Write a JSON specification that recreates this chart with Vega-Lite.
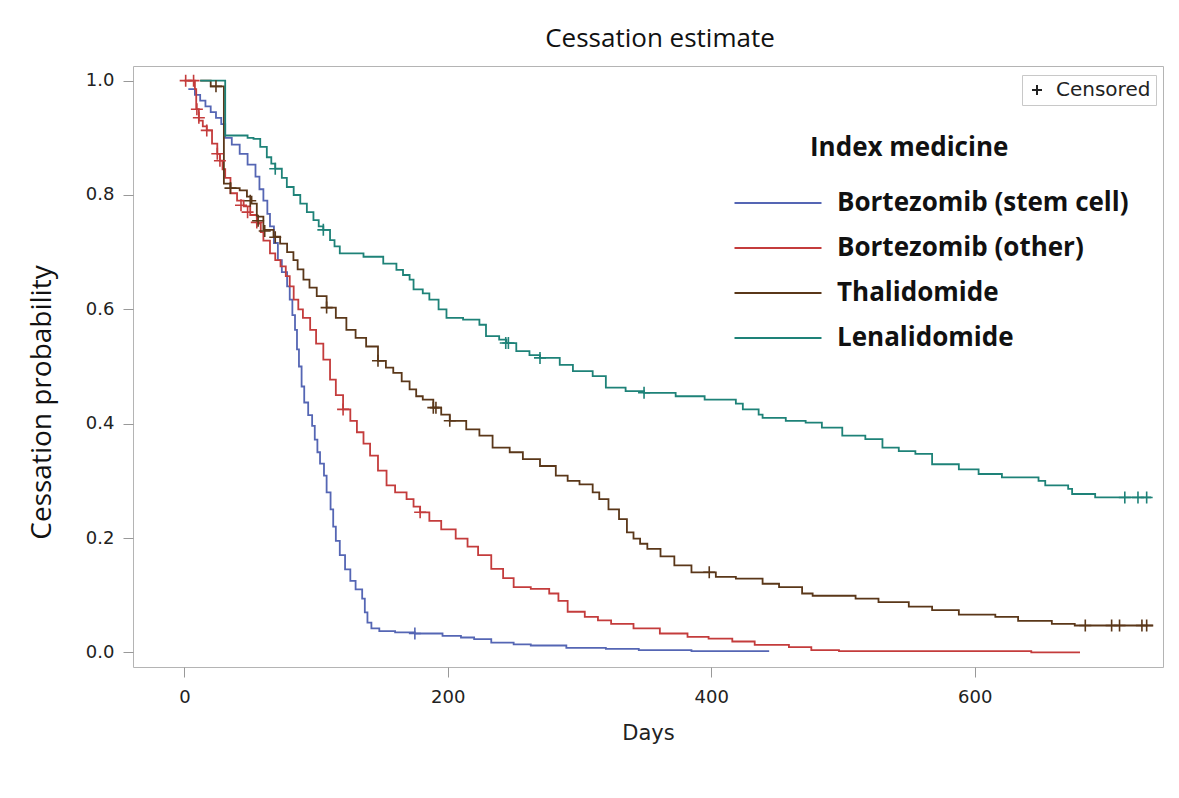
{
"$schema":"https://vega.github.io/schema/vega-lite/v6.json",
"width":1030,"height":601,
"autosize":{"type":"none"},
"padding":{"left":133,"top":66,"right":16,"bottom":131},
"background":"white",
"title":{"text":"Cessation estimate","font":"Open Sans","fontSize":26,"fontWeight":"normal","color":"#111","anchor":"middle","offset":14,"dx":12},
"config":{"view":{"stroke":"#b4b4b4","strokeWidth":1}},
"datasets":{
"curves":[
{"medicine":"Bortezomib (stem cell)","day":3,"prob":0.985},{"medicine":"Bortezomib (stem cell)","day":8,"prob":0.975},{"medicine":"Bortezomib (stem cell)","day":12,"prob":0.965},{"medicine":"Bortezomib (stem cell)","day":16,"prob":0.955},{"medicine":"Bortezomib (stem cell)","day":20,"prob":0.945},{"medicine":"Bortezomib (stem cell)","day":24,"prob":0.935},{"medicine":"Bortezomib (stem cell)","day":28,"prob":0.924},{"medicine":"Bortezomib (stem cell)","day":31,"prob":0.9},{"medicine":"Bortezomib (stem cell)","day":36,"prob":0.888},{"medicine":"Bortezomib (stem cell)","day":42,"prob":0.872},{"medicine":"Bortezomib (stem cell)","day":48,"prob":0.853},{"medicine":"Bortezomib (stem cell)","day":54,"prob":0.832},{"medicine":"Bortezomib (stem cell)","day":57,"prob":0.81},{"medicine":"Bortezomib (stem cell)","day":60,"prob":0.79},{"medicine":"Bortezomib (stem cell)","day":63,"prob":0.767},{"medicine":"Bortezomib (stem cell)","day":65,"prob":0.745},{"medicine":"Bortezomib (stem cell)","day":68,"prob":0.716},{"medicine":"Bortezomib (stem cell)","day":71,"prob":0.686},{"medicine":"Bortezomib (stem cell)","day":74,"prob":0.665},{"medicine":"Bortezomib (stem cell)","day":78,"prob":0.64},{"medicine":"Bortezomib (stem cell)","day":80,"prob":0.617},{"medicine":"Bortezomib (stem cell)","day":82,"prob":0.59},{"medicine":"Bortezomib (stem cell)","day":84,"prob":0.564},{"medicine":"Bortezomib (stem cell)","day":85.5,"prob":0.53},{"medicine":"Bortezomib (stem cell)","day":87,"prob":0.5},{"medicine":"Bortezomib (stem cell)","day":89,"prob":0.465},{"medicine":"Bortezomib (stem cell)","day":91,"prob":0.437},{"medicine":"Bortezomib (stem cell)","day":94,"prob":0.415},{"medicine":"Bortezomib (stem cell)","day":97,"prob":0.396},{"medicine":"Bortezomib (stem cell)","day":99,"prob":0.372},{"medicine":"Bortezomib (stem cell)","day":101,"prob":0.35},{"medicine":"Bortezomib (stem cell)","day":103,"prob":0.33},{"medicine":"Bortezomib (stem cell)","day":106,"prob":0.309},{"medicine":"Bortezomib (stem cell)","day":108,"prob":0.28},{"medicine":"Bortezomib (stem cell)","day":111,"prob":0.25},{"medicine":"Bortezomib (stem cell)","day":113,"prob":0.22},{"medicine":"Bortezomib (stem cell)","day":115,"prob":0.195},{"medicine":"Bortezomib (stem cell)","day":118,"prob":0.17},{"medicine":"Bortezomib (stem cell)","day":122,"prob":0.145},{"medicine":"Bortezomib (stem cell)","day":126,"prob":0.125},{"medicine":"Bortezomib (stem cell)","day":130,"prob":0.11},{"medicine":"Bortezomib (stem cell)","day":135,"prob":0.094},{"medicine":"Bortezomib (stem cell)","day":137,"prob":0.07},{"medicine":"Bortezomib (stem cell)","day":139,"prob":0.052},{"medicine":"Bortezomib (stem cell)","day":142,"prob":0.042},{"medicine":"Bortezomib (stem cell)","day":148,"prob":0.037},{"medicine":"Bortezomib (stem cell)","day":160,"prob":0.035},{"medicine":"Bortezomib (stem cell)","day":175,"prob":0.033},{"medicine":"Bortezomib (stem cell)","day":196,"prob":0.029},{"medicine":"Bortezomib (stem cell)","day":210,"prob":0.026},{"medicine":"Bortezomib (stem cell)","day":220,"prob":0.023},{"medicine":"Bortezomib (stem cell)","day":233,"prob":0.017},{"medicine":"Bortezomib (stem cell)","day":250,"prob":0.014},{"medicine":"Bortezomib (stem cell)","day":263,"prob":0.012},{"medicine":"Bortezomib (stem cell)","day":290,"prob":0.008},{"medicine":"Bortezomib (stem cell)","day":320,"prob":0.006},{"medicine":"Bortezomib (stem cell)","day":345,"prob":0.004},{"medicine":"Bortezomib (stem cell)","day":385,"prob":0.002},{"medicine":"Bortezomib (stem cell)","day":444,"prob":0.002},
{"medicine":"Bortezomib (other)","day":0,"prob":1.0},{"medicine":"Bortezomib (other)","day":8,"prob":0.985},{"medicine":"Bortezomib (other)","day":9,"prob":0.95},{"medicine":"Bortezomib (other)","day":11,"prob":0.93},{"medicine":"Bortezomib (other)","day":14,"prob":0.92},{"medicine":"Bortezomib (other)","day":17,"prob":0.913},{"medicine":"Bortezomib (other)","day":21,"prob":0.89},{"medicine":"Bortezomib (other)","day":25,"prob":0.872},{"medicine":"Bortezomib (other)","day":27,"prob":0.86},{"medicine":"Bortezomib (other)","day":29,"prob":0.845},{"medicine":"Bortezomib (other)","day":31,"prob":0.83},{"medicine":"Bortezomib (other)","day":35,"prob":0.803},{"medicine":"Bortezomib (other)","day":40,"prob":0.79},{"medicine":"Bortezomib (other)","day":45,"prob":0.78},{"medicine":"Bortezomib (other)","day":50,"prob":0.765},{"medicine":"Bortezomib (other)","day":55,"prob":0.75},{"medicine":"Bortezomib (other)","day":58,"prob":0.735},{"medicine":"Bortezomib (other)","day":60,"prob":0.72},{"medicine":"Bortezomib (other)","day":65,"prob":0.698},{"medicine":"Bortezomib (other)","day":69,"prob":0.686},{"medicine":"Bortezomib (other)","day":73,"prob":0.675},{"medicine":"Bortezomib (other)","day":77,"prob":0.658},{"medicine":"Bortezomib (other)","day":80,"prob":0.64},{"medicine":"Bortezomib (other)","day":83,"prob":0.617},{"medicine":"Bortezomib (other)","day":86.5,"prob":0.6},{"medicine":"Bortezomib (other)","day":90,"prob":0.585},{"medicine":"Bortezomib (other)","day":95.5,"prob":0.564},{"medicine":"Bortezomib (other)","day":100,"prob":0.54},{"medicine":"Bortezomib (other)","day":105.5,"prob":0.512},{"medicine":"Bortezomib (other)","day":110.6,"prob":0.477},{"medicine":"Bortezomib (other)","day":115,"prob":0.45},{"medicine":"Bortezomib (other)","day":120.5,"prob":0.425},{"medicine":"Bortezomib (other)","day":126,"prob":0.405},{"medicine":"Bortezomib (other)","day":131,"prob":0.385},{"medicine":"Bortezomib (other)","day":136,"prob":0.365},{"medicine":"Bortezomib (other)","day":141,"prob":0.344},{"medicine":"Bortezomib (other)","day":147,"prob":0.318},{"medicine":"Bortezomib (other)","day":153.5,"prob":0.292},{"medicine":"Bortezomib (other)","day":160,"prob":0.28},{"medicine":"Bortezomib (other)","day":168.7,"prob":0.268},{"medicine":"Bortezomib (other)","day":174,"prob":0.255},{"medicine":"Bortezomib (other)","day":179,"prob":0.245},{"medicine":"Bortezomib (other)","day":186,"prob":0.23},{"medicine":"Bortezomib (other)","day":195,"prob":0.215},{"medicine":"Bortezomib (other)","day":206,"prob":0.199},{"medicine":"Bortezomib (other)","day":215,"prob":0.185},{"medicine":"Bortezomib (other)","day":223,"prob":0.17},{"medicine":"Bortezomib (other)","day":233,"prob":0.146},{"medicine":"Bortezomib (other)","day":242,"prob":0.13},{"medicine":"Bortezomib (other)","day":250,"prob":0.114},{"medicine":"Bortezomib (other)","day":263,"prob":0.111},{"medicine":"Bortezomib (other)","day":277,"prob":0.103},{"medicine":"Bortezomib (other)","day":284,"prob":0.09},{"medicine":"Bortezomib (other)","day":291,"prob":0.071},{"medicine":"Bortezomib (other)","day":304,"prob":0.062},{"medicine":"Bortezomib (other)","day":314,"prob":0.056},{"medicine":"Bortezomib (other)","day":324,"prob":0.05},{"medicine":"Bortezomib (other)","day":341,"prob":0.042},{"medicine":"Bortezomib (other)","day":361,"prob":0.033},{"medicine":"Bortezomib (other)","day":382,"prob":0.027},{"medicine":"Bortezomib (other)","day":398,"prob":0.024},{"medicine":"Bortezomib (other)","day":416,"prob":0.019},{"medicine":"Bortezomib (other)","day":433,"prob":0.013},{"medicine":"Bortezomib (other)","day":459,"prob":0.009},{"medicine":"Bortezomib (other)","day":476,"prob":0.004},{"medicine":"Bortezomib (other)","day":497,"prob":0.002},{"medicine":"Bortezomib (other)","day":643,"prob":0.0},{"medicine":"Bortezomib (other)","day":680,"prob":0.0},
{"medicine":"Thalidomide","day":12,"prob":1.0},{"medicine":"Thalidomide","day":20,"prob":0.99},{"medicine":"Thalidomide","day":30,"prob":0.82},{"medicine":"Thalidomide","day":35,"prob":0.812},{"medicine":"Thalidomide","day":42,"prob":0.808},{"medicine":"Thalidomide","day":47.5,"prob":0.797},{"medicine":"Thalidomide","day":51,"prob":0.785},{"medicine":"Thalidomide","day":55,"prob":0.762},{"medicine":"Thalidomide","day":60,"prob":0.739},{"medicine":"Thalidomide","day":67.7,"prob":0.727},{"medicine":"Thalidomide","day":72.7,"prob":0.715},{"medicine":"Thalidomide","day":78,"prob":0.7},{"medicine":"Thalidomide","day":82.8,"prob":0.686},{"medicine":"Thalidomide","day":86,"prob":0.67},{"medicine":"Thalidomide","day":90.4,"prob":0.652},{"medicine":"Thalidomide","day":95,"prob":0.638},{"medicine":"Thalidomide","day":100.5,"prob":0.623},{"medicine":"Thalidomide","day":108,"prob":0.603},{"medicine":"Thalidomide","day":115,"prob":0.585},{"medicine":"Thalidomide","day":123,"prob":0.564},{"medicine":"Thalidomide","day":130,"prob":0.55},{"medicine":"Thalidomide","day":138,"prob":0.535},{"medicine":"Thalidomide","day":147,"prob":0.51},{"medicine":"Thalidomide","day":153,"prob":0.498},{"medicine":"Thalidomide","day":158.6,"prob":0.489},{"medicine":"Thalidomide","day":165,"prob":0.474},{"medicine":"Thalidomide","day":171,"prob":0.46},{"medicine":"Thalidomide","day":176,"prob":0.448},{"medicine":"Thalidomide","day":181,"prob":0.442},{"medicine":"Thalidomide","day":189,"prob":0.428},{"medicine":"Thalidomide","day":195,"prob":0.416},{"medicine":"Thalidomide","day":201.5,"prob":0.405},{"medicine":"Thalidomide","day":214,"prob":0.39},{"medicine":"Thalidomide","day":224,"prob":0.379},{"medicine":"Thalidomide","day":234,"prob":0.358},{"medicine":"Thalidomide","day":247,"prob":0.35},{"medicine":"Thalidomide","day":257,"prob":0.338},{"medicine":"Thalidomide","day":270,"prob":0.326},{"medicine":"Thalidomide","day":282,"prob":0.309},{"medicine":"Thalidomide","day":291,"prob":0.3},{"medicine":"Thalidomide","day":300,"prob":0.294},{"medicine":"Thalidomide","day":310,"prob":0.28},{"medicine":"Thalidomide","day":315,"prob":0.268},{"medicine":"Thalidomide","day":322,"prob":0.25},{"medicine":"Thalidomide","day":330,"prob":0.233},{"medicine":"Thalidomide","day":336,"prob":0.21},{"medicine":"Thalidomide","day":341,"prob":0.199},{"medicine":"Thalidomide","day":346,"prob":0.19},{"medicine":"Thalidomide","day":351.5,"prob":0.181},{"medicine":"Thalidomide","day":361.5,"prob":0.168},{"medicine":"Thalidomide","day":372,"prob":0.152},{"medicine":"Thalidomide","day":385,"prob":0.14},{"medicine":"Thalidomide","day":403.5,"prob":0.132},{"medicine":"Thalidomide","day":418.7,"prob":0.129},{"medicine":"Thalidomide","day":439,"prob":0.12},{"medicine":"Thalidomide","day":451.5,"prob":0.114},{"medicine":"Thalidomide","day":469,"prob":0.103},{"medicine":"Thalidomide","day":477,"prob":0.099},{"medicine":"Thalidomide","day":509.6,"prob":0.094},{"medicine":"Thalidomide","day":527,"prob":0.088},{"medicine":"Thalidomide","day":550,"prob":0.08},{"medicine":"Thalidomide","day":567.7,"prob":0.074},{"medicine":"Thalidomide","day":588,"prob":0.066},{"medicine":"Thalidomide","day":615.7,"prob":0.062},{"medicine":"Thalidomide","day":633,"prob":0.055},{"medicine":"Thalidomide","day":658.6,"prob":0.05},{"medicine":"Thalidomide","day":676,"prob":0.047},{"medicine":"Thalidomide","day":735.6,"prob":0.047},
{"medicine":"Lenalidomide","day":12,"prob":1.0},{"medicine":"Lenalidomide","day":31,"prob":0.904},{"medicine":"Lenalidomide","day":48,"prob":0.9},{"medicine":"Lenalidomide","day":52.5,"prob":0.898},{"medicine":"Lenalidomide","day":57.6,"prob":0.884},{"medicine":"Lenalidomide","day":62.6,"prob":0.866},{"medicine":"Lenalidomide","day":66,"prob":0.855},{"medicine":"Lenalidomide","day":69,"prob":0.846},{"medicine":"Lenalidomide","day":74,"prob":0.83},{"medicine":"Lenalidomide","day":77.8,"prob":0.814},{"medicine":"Lenalidomide","day":83,"prob":0.8},{"medicine":"Lenalidomide","day":88,"prob":0.785},{"medicine":"Lenalidomide","day":93,"prob":0.77},{"medicine":"Lenalidomide","day":98,"prob":0.756},{"medicine":"Lenalidomide","day":102,"prob":0.745},{"medicine":"Lenalidomide","day":105.5,"prob":0.739},{"medicine":"Lenalidomide","day":110.6,"prob":0.721},{"medicine":"Lenalidomide","day":114,"prob":0.71},{"medicine":"Lenalidomide","day":118,"prob":0.698},{"medicine":"Lenalidomide","day":136,"prob":0.692},{"medicine":"Lenalidomide","day":151,"prob":0.68},{"medicine":"Lenalidomide","day":161,"prob":0.669},{"medicine":"Lenalidomide","day":166,"prob":0.66},{"medicine":"Lenalidomide","day":171,"prob":0.652},{"medicine":"Lenalidomide","day":174,"prob":0.635},{"medicine":"Lenalidomide","day":181,"prob":0.628},{"medicine":"Lenalidomide","day":186,"prob":0.617},{"medicine":"Lenalidomide","day":193,"prob":0.6},{"medicine":"Lenalidomide","day":199,"prob":0.585},{"medicine":"Lenalidomide","day":211.6,"prob":0.582},{"medicine":"Lenalidomide","day":224,"prob":0.573},{"medicine":"Lenalidomide","day":229,"prob":0.553},{"medicine":"Lenalidomide","day":239,"prob":0.547},{"medicine":"Lenalidomide","day":244.5,"prob":0.541},{"medicine":"Lenalidomide","day":252,"prob":0.527},{"medicine":"Lenalidomide","day":262,"prob":0.52},{"medicine":"Lenalidomide","day":270,"prob":0.515},{"medicine":"Lenalidomide","day":285,"prob":0.503},{"medicine":"Lenalidomide","day":295,"prob":0.492},{"medicine":"Lenalidomide","day":310,"prob":0.483},{"medicine":"Lenalidomide","day":320,"prob":0.463},{"medicine":"Lenalidomide","day":335,"prob":0.457},{"medicine":"Lenalidomide","day":349,"prob":0.454},{"medicine":"Lenalidomide","day":373,"prob":0.448},{"medicine":"Lenalidomide","day":395,"prob":0.442},{"medicine":"Lenalidomide","day":418.7,"prob":0.435},{"medicine":"Lenalidomide","day":424,"prob":0.425},{"medicine":"Lenalidomide","day":436,"prob":0.416},{"medicine":"Lenalidomide","day":439,"prob":0.41},{"medicine":"Lenalidomide","day":456.6,"prob":0.405},{"medicine":"Lenalidomide","day":471.7,"prob":0.402},{"medicine":"Lenalidomide","day":484,"prob":0.393},{"medicine":"Lenalidomide","day":499.5,"prob":0.379},{"medicine":"Lenalidomide","day":517,"prob":0.373},{"medicine":"Lenalidomide","day":530,"prob":0.358},{"medicine":"Lenalidomide","day":542.4,"prob":0.352},{"medicine":"Lenalidomide","day":555,"prob":0.347},{"medicine":"Lenalidomide","day":567.7,"prob":0.329},{"medicine":"Lenalidomide","day":588,"prob":0.32},{"medicine":"Lenalidomide","day":603,"prob":0.312},{"medicine":"Lenalidomide","day":620.7,"prob":0.306},{"medicine":"Lenalidomide","day":648.5,"prob":0.3},{"medicine":"Lenalidomide","day":653.6,"prob":0.292},{"medicine":"Lenalidomide","day":671,"prob":0.286},{"medicine":"Lenalidomide","day":674,"prob":0.277},{"medicine":"Lenalidomide","day":691.5,"prob":0.271},{"medicine":"Lenalidomide","day":734,"prob":0.271}
],
"cens":[
{"medicine":"Bortezomib (stem cell)","day":175,"prob":0.033,"mark":"Censored"},
{"medicine":"Bortezomib (other)","day":1,"prob":1.0,"mark":"Censored"},{"medicine":"Bortezomib (other)","day":7,"prob":1.0,"mark":"Censored"},{"medicine":"Bortezomib (other)","day":9.5,"prob":0.95,"mark":"Censored"},{"medicine":"Bortezomib (other)","day":11,"prob":0.935,"mark":"Censored"},{"medicine":"Bortezomib (other)","day":17,"prob":0.913,"mark":"Censored"},{"medicine":"Bortezomib (other)","day":25,"prob":0.872,"mark":"Censored"},{"medicine":"Bortezomib (other)","day":27,"prob":0.86,"mark":"Censored"},{"medicine":"Bortezomib (other)","day":43,"prob":0.782,"mark":"Censored"},{"medicine":"Bortezomib (other)","day":48,"prob":0.77,"mark":"Censored"},{"medicine":"Bortezomib (other)","day":55,"prob":0.752,"mark":"Censored"},{"medicine":"Bortezomib (other)","day":120.5,"prob":0.425,"mark":"Censored"},{"medicine":"Bortezomib (other)","day":179,"prob":0.245,"mark":"Censored"},
{"medicine":"Thalidomide","day":24,"prob":0.99,"mark":"Censored"},{"medicine":"Thalidomide","day":35,"prob":0.812,"mark":"Censored"},{"medicine":"Thalidomide","day":50,"prob":0.79,"mark":"Censored"},{"medicine":"Thalidomide","day":56,"prob":0.755,"mark":"Censored"},{"medicine":"Thalidomide","day":61,"prob":0.737,"mark":"Censored"},{"medicine":"Thalidomide","day":69,"prob":0.726,"mark":"Censored"},{"medicine":"Thalidomide","day":108,"prob":0.603,"mark":"Censored"},{"medicine":"Thalidomide","day":147,"prob":0.51,"mark":"Censored"},{"medicine":"Thalidomide","day":189,"prob":0.428,"mark":"Censored"},{"medicine":"Thalidomide","day":191,"prob":0.428,"mark":"Censored"},{"medicine":"Thalidomide","day":201.5,"prob":0.405,"mark":"Censored"},{"medicine":"Thalidomide","day":398.5,"prob":0.14,"mark":"Censored"},{"medicine":"Thalidomide","day":684,"prob":0.047,"mark":"Censored"},{"medicine":"Thalidomide","day":704,"prob":0.047,"mark":"Censored"},{"medicine":"Thalidomide","day":710,"prob":0.047,"mark":"Censored"},{"medicine":"Thalidomide","day":727,"prob":0.047,"mark":"Censored"},{"medicine":"Thalidomide","day":730.6,"prob":0.047,"mark":"Censored"},
{"medicine":"Lenalidomide","day":69,"prob":0.846,"mark":"Censored"},{"medicine":"Lenalidomide","day":105.5,"prob":0.739,"mark":"Censored"},{"medicine":"Lenalidomide","day":244,"prob":0.541,"mark":"Censored"},{"medicine":"Lenalidomide","day":246,"prob":0.541,"mark":"Censored"},{"medicine":"Lenalidomide","day":270,"prob":0.515,"mark":"Censored"},{"medicine":"Lenalidomide","day":349,"prob":0.454,"mark":"Censored"},{"medicine":"Lenalidomide","day":714,"prob":0.271,"mark":"Censored"},{"medicine":"Lenalidomide","day":724,"prob":0.271,"mark":"Censored"},{"medicine":"Lenalidomide","day":730.6,"prob":0.271,"mark":"Censored"}
]
},
"encoding":{
"x":{"field":"day","type":"quantitative","scale":{"domain":[-39,743],"nice":false,"zero":false},
 "axis":{"values":[0,200,400,600],"title":"Days","grid":false,"domain":false,"tickColor":"#999","tickSize":10,"labelFont":"DejaVu Sans","labelFontSize":18,"labelColor":"#222","labelPadding":11,"titleFont":"DejaVu Sans","titleFontSize":21,"titleFontWeight":"normal","titleColor":"#222","titleY":66,"titleBaseline":"middle"}},
"y":{"field":"prob","type":"quantitative","scale":{"domain":[-0.0256,1.0256],"nice":false,"zero":false},
 "axis":{"values":[0,0.2,0.4,0.6,0.8,1.0],"format":".1f","title":"Cessation probability","grid":false,"domain":false,"tickColor":"#999","tickSize":10,"labelFont":"DejaVu Sans","labelFontSize":18,"labelColor":"#222","labelPadding":9,"titleFont":"Open Sans","titleFontSize":28,"titleFontWeight":"normal","titleColor":"#111","titleX":-91,"titleY":336,"titleAlign":"center","titleBaseline":"middle","titleAngle":-90}},
"color":{"field":"medicine","type":"nominal",
 "scale":{"domain":["Bortezomib (stem cell)","Bortezomib (other)","Thalidomide","Lenalidomide"],"range":["#5566b4","#c43c3c","#5a3719","#1e8278"]},
 "legend":{"title":"Index medicine","orient":"none","legendX":677,"legendY":69,"padding":0,"titleFont":"Open Sans","titleFontSize":26,"titleFontWeight":"bold","titleColor":"#111","titleLimit":0,"labelFont":"Open Sans","labelFontSize":26,"labelFontWeight":"bold","labelColor":"#111","labelLimit":0,"symbolType":"M-4,0L4,0","symbolSize":473,"symbolStrokeWidth":2,"symbolOffset":-45,"labelOffset":46,"rowPadding":19,"titlePadding":29}}
},
"layer":[
{"data":{"name":"curves"},"mark":{"type":"line","interpolate":"step-after","strokeWidth":1.8}},
{"data":{"name":"cens"},"mark":{"type":"point","filled":false,"strokeWidth":1.6,"opacity":1,"size":144},
 "encoding":{"shape":{"field":"mark","type":"nominal","scale":{"range":["M-1,0L1,0M0,-1L0,1"]},
  "legend":{"title":null,"orient":"none","legendX":889,"legendY":9,"padding":5,"strokeColor":"#c8c8c8","fillColor":"white","labelFont":"DejaVu Sans","labelFontSize":20,"labelColor":"#222","symbolStrokeColor":"#222","symbolFillColor":"transparent","symbolStrokeWidth":2,"symbolSize":100,"labelOffset":9}}}}
]
}
